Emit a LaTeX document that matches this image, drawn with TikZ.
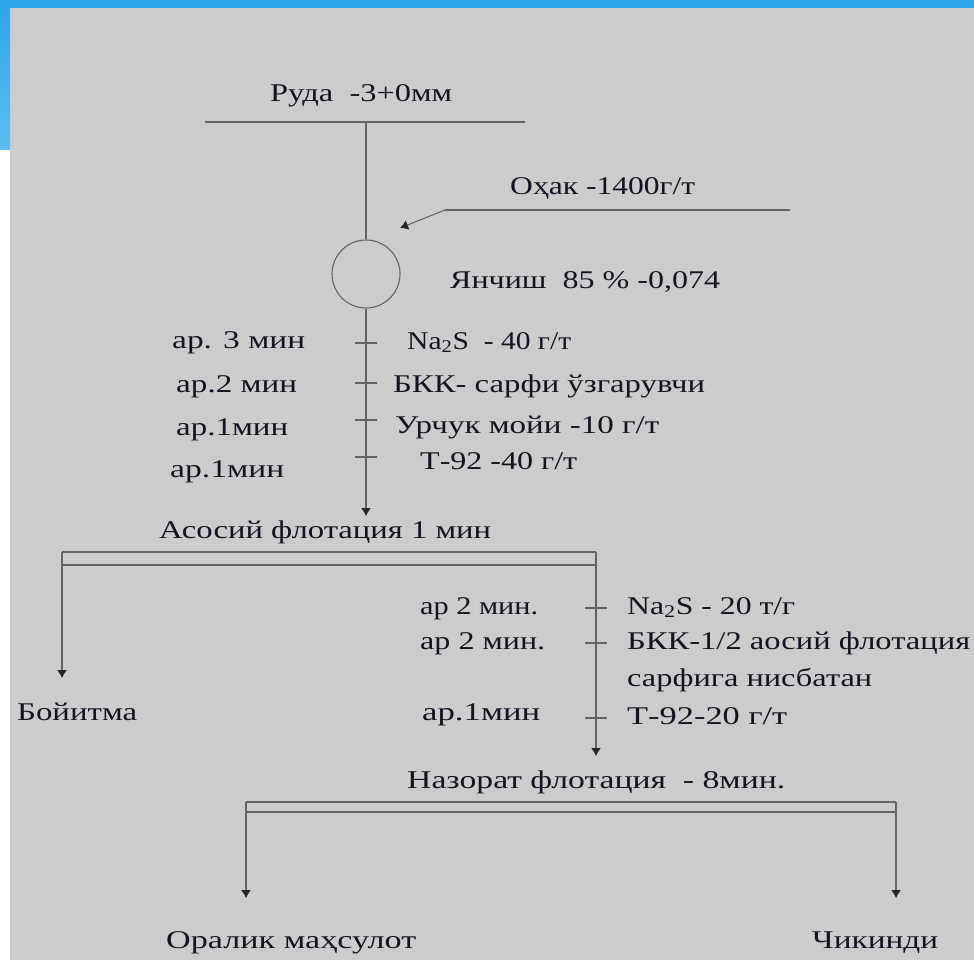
\documentclass[tikz,border=0pt]{standalone}
\usepackage{fontspec}
\setmainfont{Liberation Serif}
\usetikzlibrary{arrows.meta}
\definecolor{bgg}{HTML}{CCCCCC}
\definecolor{blueA}{HTML}{2CA6E8}
\definecolor{blueB}{HTML}{5DBEF3}
\definecolor{ink}{HTML}{141420}
\definecolor{lin}{HTML}{646464}
\newcommand\ftxt[2]{\resizebox{#1pt}{\height}{\fontsize{25.5}{28}\selectfont #2}}
\tikzset{
  lbl/.style={anchor=base west, inner sep=0pt, text=ink},
  ln/.style={draw=lin, line width=1.1pt},
  arr/.style={ln, -{Latex[length=8pt,width=10pt,color=black!85]}},
  tick/.style={draw=lin, line width=1.1pt}
}
\begin{document}
\begin{tikzpicture}[x=1pt,y=-1pt]
\useasboundingbox (0,0) rectangle (974,960);
% background
\fill[white] (0,0) rectangle (974,960);
\fill[bgg] (10,8) rectangle (974,960);
\fill[blueA] (0,0) rectangle (974,8);
\shade[top color=blueA, bottom color=blueB] (0,0) rectangle (10,150);

% texts
\node[lbl] (ruda) at (270,102) {\ftxt{182}{Руда\ \ -3+0мм}};
\node[lbl] (ohak) at (510,195) {\ftxt{185}{Оҳак -1400г/т}};
\node[lbl] (yanch) at (450,288) {\ftxt{270}{Янчиш\ \ 85 \% -0,074}};
\node[lbl] (a1) at (172,348) {\ftxt{133}{ар. 3 мин}};
\node[lbl] (r1) at (407,349) {\ftxt{164}{Na\textsubscript{2}S\ \ - 40 г/т}};
\node[lbl] (a2) at (176,392) {\ftxt{121}{ар.2 мин}};
\node[lbl] (r2) at (393,392) {\ftxt{312}{БКК- сарфи ўзгарувчи}};
\node[lbl] (a3) at (176,435) {\ftxt{112}{ар.1мин}};
\node[lbl] (r3) at (395,433) {\ftxt{264}{Урчук мойи -10 г/т}};
\node[lbl] (a4) at (170,477) {\ftxt{114}{ар.1мин}};
\node[lbl] (r4) at (420,469) {\ftxt{157}{Т-92 -40 г/т}};
\node[lbl] (asos) at (159,538) {\ftxt{332}{Асосий флотация 1 мин}};
\node[lbl] (b1) at (420,614) {\ftxt{118}{ар 2 мин.}};
\node[lbl] (s1) at (627,614) {\ftxt{168}{Na\textsubscript{2}S - 20 т/г}};
\node[lbl] (b2) at (420,649) {\ftxt{125}{ар 2 мин.}};
\node[lbl] (s2) at (627,649) {\ftxt{343}{БКК-1/2 аосий флотация}};
\node[lbl] (s2b) at (627,686) {\ftxt{245}{сарфига нисбатан}};
\node[lbl] (b3) at (422,720) {\ftxt{118}{ар.1мин}};
\node[lbl] (s3) at (627,724) {\ftxt{160}{Т-92-20 г/т}};
\node[lbl] (boy) at (17,720) {\ftxt{120}{Бойитма}};
\node[lbl] (naz) at (407,788) {\ftxt{378}{Назорат флотация\ \ - 8мин.}};
\node[lbl] (oral) at (166,948) {\ftxt{250}{Оралик маҳсулот}};
\node[lbl] (chik) at (812,948) {\ftxt{126}{Чикинди}};

% mill
\node[draw=lin, line width=1.1pt, circle, minimum size=68pt, inner sep=0pt] (mill) at (366,274) {};

% coordinates
\coordinate (tl) at (205,122);
\coordinate (tr) at (525,122);
\coordinate (tm) at (366,122);
\coordinate (or) at (790,210);
\coordinate (ok) at (445,210);
\coordinate (oa) at (400,228);
\coordinate (f1) at (366,516);
\coordinate (b1l) at (62,552);
\coordinate (b1r) at (596,552);
\coordinate (b1l2) at (62,565);
\coordinate (b1r2) at (596,565);
\coordinate (boyA) at (62,678);
\coordinate (nazA) at (596,756);
\coordinate (b2l) at (246,802);
\coordinate (b2r) at (896,802);
\coordinate (b2l2) at (246,812);
\coordinate (b2r2) at (896,812);
\coordinate (oralA) at (246,898);
\coordinate (chikA) at (896,898);

% lines
\draw[ln] (tl) -- (tr);
\draw[ln] (tm) -- (mill.north);
\draw[ln] (or) -- (ok);
\draw[arr] (ok) -- (oa);
\draw[arr] (mill.south) -- (f1);
\foreach \yy in {343,383,420,457} \draw[tick] (355,\yy) -- (377,\yy);

\draw[ln] (b1l) -- (b1r);
\draw[ln] (b1l2) -- (b1r2);
\draw[arr] (b1l) -- (boyA);
\draw[arr] (b1r) -- (nazA);
\foreach \yy in {608,643,718} \draw[tick] (585,\yy) -- (607,\yy);

\draw[ln] (b2l) -- (b2r);
\draw[ln] (b2l2) -- (b2r2);
\draw[arr] (b2l) -- (oralA);
\draw[arr] (b2r) -- (chikA);
\end{tikzpicture}
\end{document}
